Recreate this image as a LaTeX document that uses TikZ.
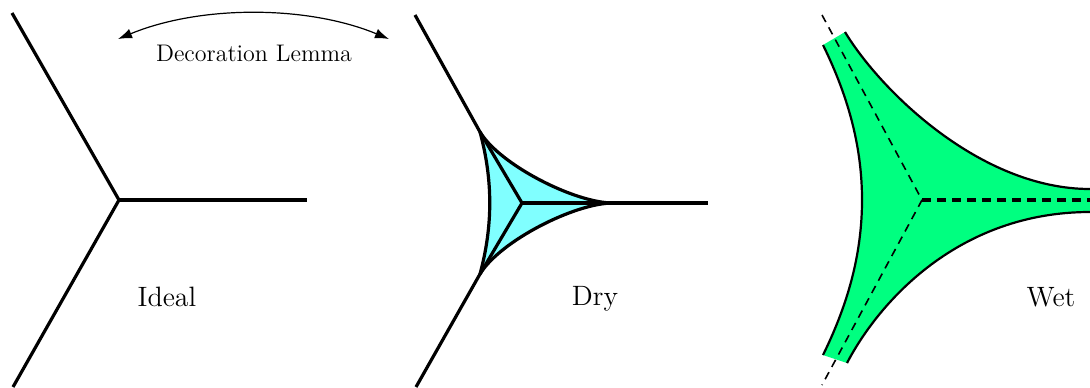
\documentclass[tikz,border=0pt]{standalone}
\usetikzlibrary{arrows.meta}
\definecolor{dryfill}{RGB}{128,255,255}
\definecolor{wetfill}{RGB}{0,255,128}
\begin{document}
\begin{tikzpicture}[x=0.5pt,y=-0.5pt,
  edge/.style={line width=1.6pt, line join=round},
  thinedge/.style={line width=1.1pt},
  wetdash/.style={line width=1.6pt, dash pattern=on 4.5pt off 3pt},
  wetdashthin/.style={line width=0.8pt, dash pattern=on 4pt off 3pt},
  lbl/.style={font=\fontsize{14}{16}\selectfont, inner sep=0pt},
  smalllbl/.style={font=\fontsize{12}{14}\selectfont, inner sep=0pt}]
\useasboundingbox (0,0) rectangle (1090,387);
% ---------- Ideal ----------
\coordinate (ic) at (119,200);
\coordinate (it) at (12,13);
\coordinate (ib) at (13,387);
\coordinate (ir) at (307,200);
\draw[edge] (it) -- (ic) -- (ib);
\draw[edge] (ic) -- (ir);
\node[lbl] (ideal) at (167,297) {Ideal};
% ---------- arrow ----------
\coordinate (al) at (118,39);
\coordinate (ar) at (389,39);
\draw[line width=0.6pt, {Latex[length=7pt,width=5pt]}-{Latex[length=7pt,width=5pt]}]
  (al) .. controls (200,5) and (307,5) .. (ar);
\node[smalllbl] (dec) at (254,53) {Decoration Lemma};
% ---------- Dry ----------
\coordinate (dc) at (522,203);
\coordinate (dt) at (480,132);
\coordinate (db) at (480,274);
\coordinate (dr) at (613,203);
\coordinate (dto) at (415,15);
\coordinate (dbo) at (416,387);
\coordinate (dro) at (708,203);
\fill[dryfill] (dr) .. controls (575,203) and (500,165) .. (dt)
  .. controls (493,180) and (493,226) .. (db)
  .. controls (500,241) and (575,203) .. (dr) -- cycle;
\draw[edge] (dr) .. controls (575,203) and (500,165) .. (dt)
  .. controls (493,180) and (493,226) .. (db)
  .. controls (500,241) and (575,203) .. (dr);
\draw[edge] (dt) -- (dc) -- (db);
\draw[edge] (dc) -- (dr);
\draw[edge] (dto) -- (dt);
\draw[edge] (dbo) -- (db);
\draw[edge] (dr) -- (dro);
\node[lbl] (dry) at (595,299) {Dry};
% ---------- Wet ----------
\coordinate (wc) at (922,200);
\coordinate (wtl) at (823,45);
\coordinate (wtr) at (845,32);
\coordinate (wbl) at (823,355);
\coordinate (wbr) at (847,363);
\coordinate (wru) at (1090,189);
\coordinate (wrd) at (1090,212);
\coordinate (wto) at (822,15);
\coordinate (wbo) at (822,385);
\coordinate (wro) at (1090,200);
\fill[wetfill] (wtl) -- (wtr)
  .. controls (880,90) and (980,189) .. (wru) -- (wrd)
  .. controls (960,212) and (880,300) .. (wbr) -- (wbl)
  .. controls (850,300) and (862,250) .. (862,200)
  .. controls (862,150) and (850,100) .. (wtl) -- cycle;
\draw[thinedge] (wtr) .. controls (880,90) and (980,189) .. (wru);
\draw[thinedge] (wrd) .. controls (960,212) and (880,300) .. (wbr);
\draw[thinedge] (wbl)
  .. controls (850,300) and (862,250) .. (862,200)
  .. controls (862,150) and (850,100) .. (wtl);
\draw[wetdashthin] (wto) -- (wc) -- (wbo);
\draw[wetdash] (wc) -- (wro);
\node[lbl] (wet) at (1051,297) {Wet};
\end{tikzpicture}
\end{document}
